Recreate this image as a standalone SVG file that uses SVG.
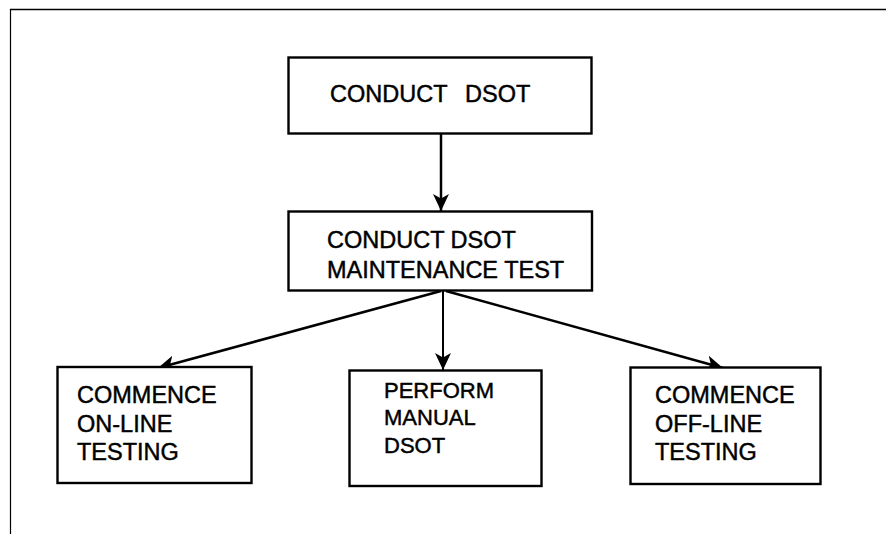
<svg xmlns="http://www.w3.org/2000/svg" width="886" height="534" viewBox="0 0 886 534">
<style>
.box{fill:#fff;stroke:#000;stroke-width:2.4}
.t{font-family:"Liberation Sans",Arial,Helvetica,sans-serif;font-size:23.5px;fill:#000;stroke:#000;stroke-width:0.45}
.s{font-size:22px}
.c{stroke:#000;stroke-width:2.5;fill:none;marker-end:url(#ah)}
</style>
<defs>
<marker id="ah" markerUnits="userSpaceOnUse" markerWidth="20" markerHeight="18" refX="17" refY="8" orient="auto" viewBox="0 0 20 18">
<path d="M0,0 L17,8 L0,16 L4.5,8 Z" fill="#000"/>
</marker>
</defs>
<rect width="886" height="534" fill="#fff"/>
<g id="frame" stroke="#000" fill="none">
<line x1="10.5" y1="534" x2="10.5" y2="9" stroke-width="1.2"/>
<line x1="10" y1="9.5" x2="886" y2="9.5" stroke-width="1.6"/>
</g>
<g id="connectors">
<line class="c" x1="441" y1="134" x2="441" y2="211"/>
<line class="c" x1="441" y1="291" x2="158" y2="368"/>
<line class="c" x1="443" y1="291" x2="443" y2="370" style="stroke-width:2"/>
<line class="c" x1="446" y1="291" x2="723" y2="368"/>
</g>
<g id="conduct-dsot">
<rect class="box" x="288.5" y="57.5" width="303" height="76"/>
<text class="t" y="101.7"><tspan x="330">CONDUCT</tspan><tspan x="465">DSOT</tspan></text>
</g>
<g id="maintenance-test">
<rect class="box" x="288.5" y="211.5" width="303.5" height="79"/>
<text class="t" x="327" y="248.3">CONDUCT DSOT</text>
<text class="t" x="327" y="278">MAINTENANCE TEST</text>
</g>
<g id="online-testing">
<rect class="box" x="57.5" y="367" width="194" height="116"/>
<text class="t" x="77" y="403.3">COMMENCE</text>
<text class="t" x="77" y="431.7">ON-LINE</text>
<text class="t" x="77" y="460">TESTING</text>
</g>
<g id="manual-dsot">
<rect class="box" x="349.5" y="370.5" width="192" height="115.5"/>
<text class="t s" x="384" y="397.7">PERFORM</text>
<text class="t s" x="384" y="425.3">MANUAL</text>
<text class="t s" x="384" y="453.3">DSOT</text>
</g>
<g id="offline-testing">
<rect class="box" x="630.5" y="367.5" width="190" height="116.5"/>
<text class="t" x="655" y="403.3">COMMENCE</text>
<text class="t" x="655" y="431.7">OFF-LINE</text>
<text class="t" x="655" y="460">TESTING</text>
</g>
</svg>
